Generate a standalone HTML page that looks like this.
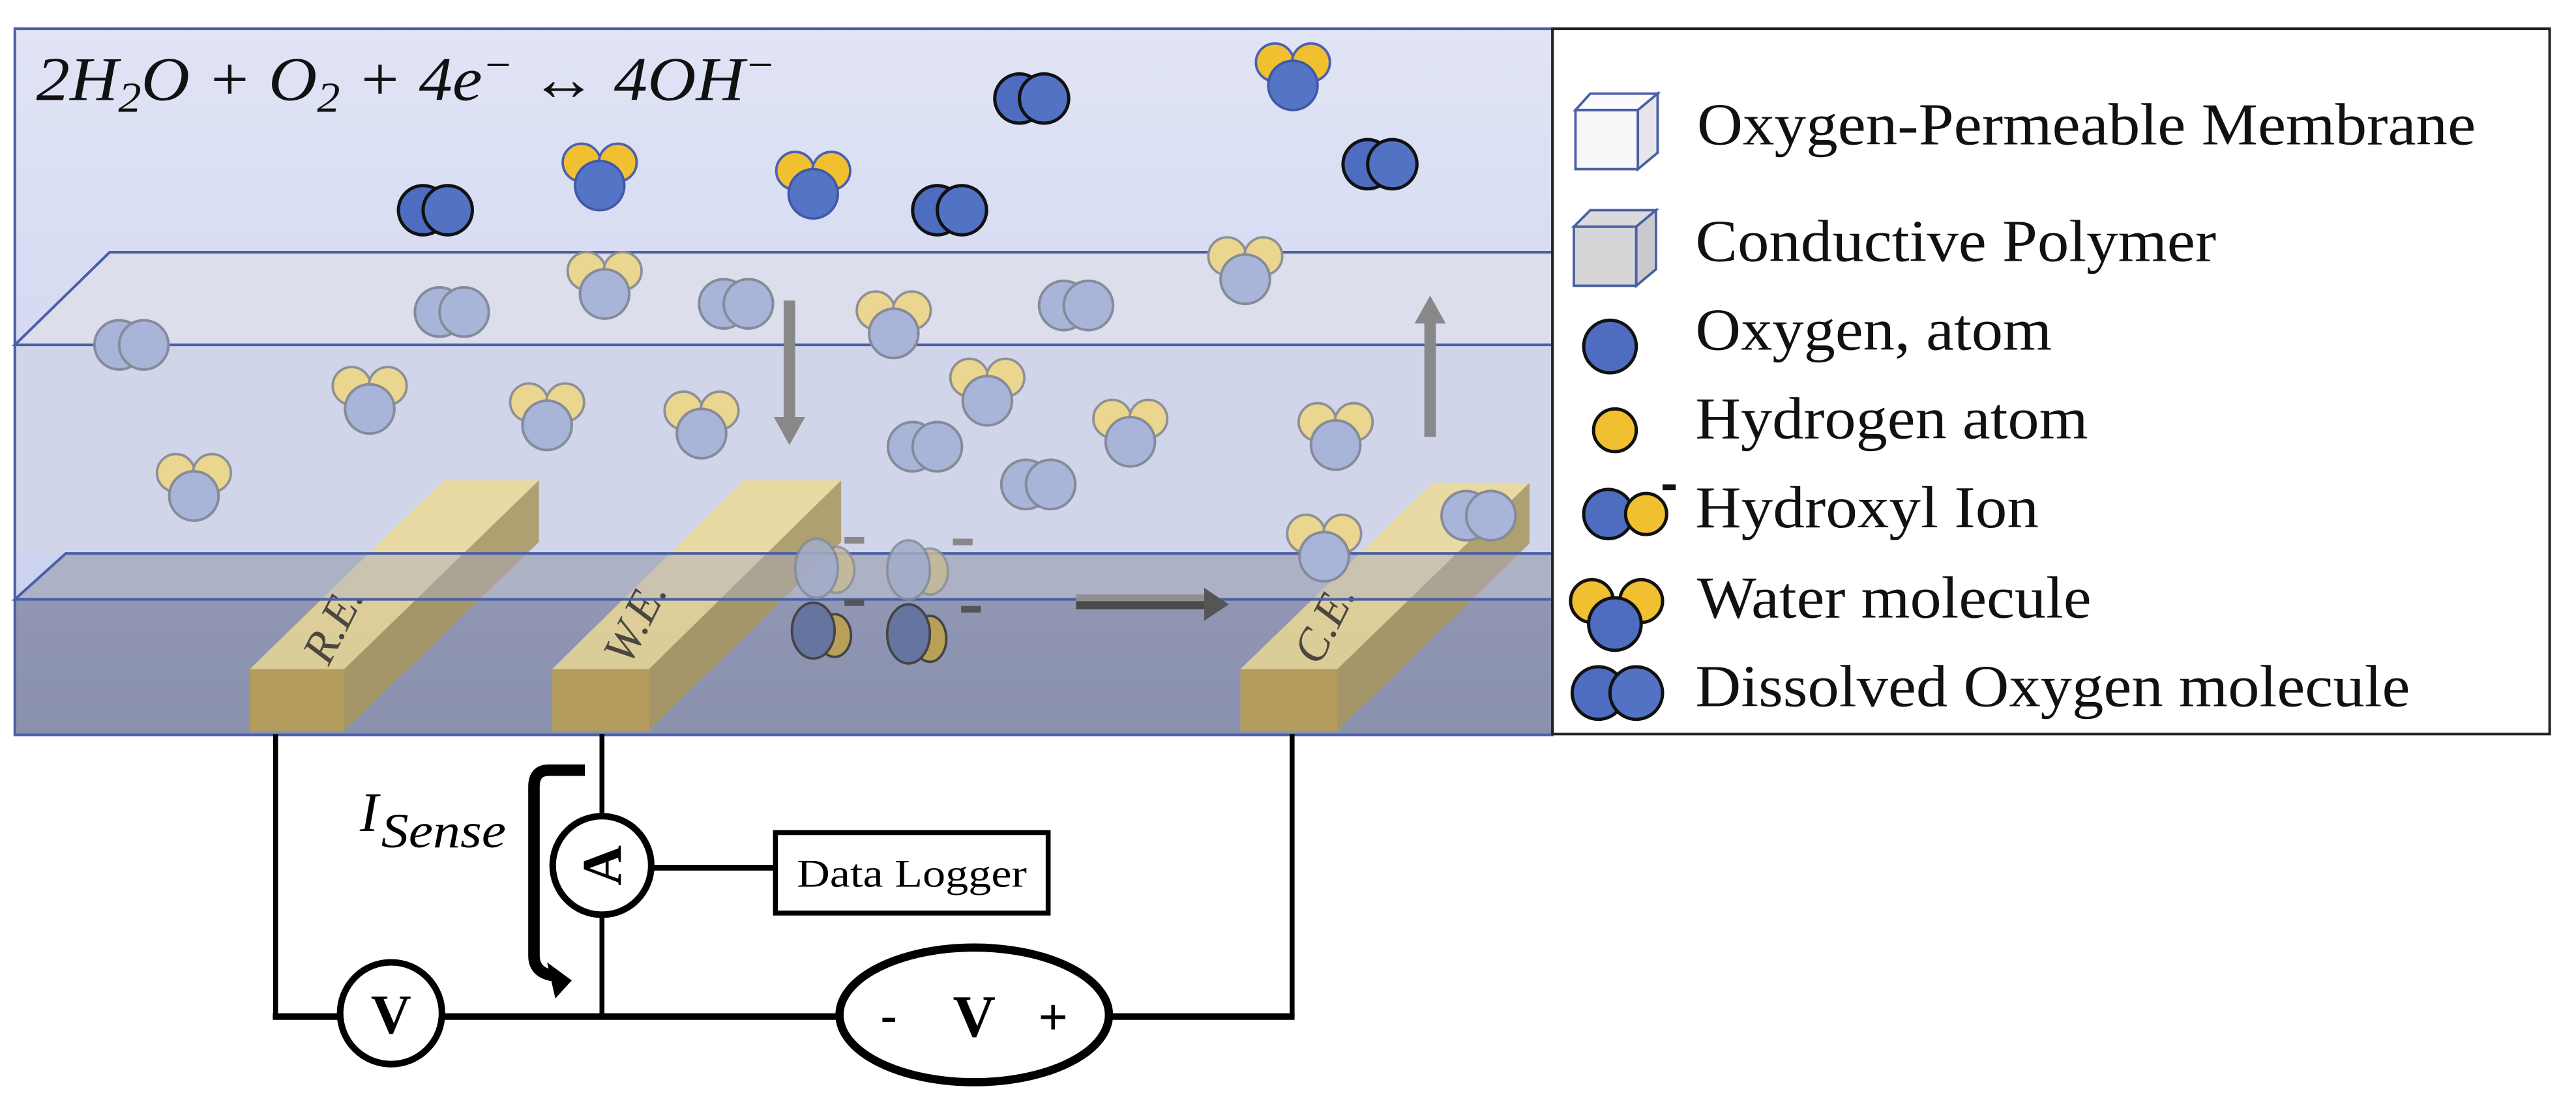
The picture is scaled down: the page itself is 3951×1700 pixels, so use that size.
<!DOCTYPE html>
<html><head><meta charset="utf-8"><style>html,body{margin:0;padding:0;background:#fff}svg{display:block}</style></head>
<body>
<svg width="3951" height="1700" viewBox="0 0 1568 674.7" xmlns="http://www.w3.org/2000/svg">
<defs>
<linearGradient id="top" x1="0" y1="0" x2="0" y2="1"><stop offset="0" stop-color="#e0e4f5"/><stop offset="1" stop-color="#c6cdee"/></linearGradient>
<linearGradient id="bot" x1="0" y1="0" x2="0" y2="1"><stop offset="0" stop-color="#9096b3"/><stop offset="1" stop-color="#8a91ae"/></linearGradient>
<g id="o2s"><circle cx="-7.5" cy="0" r="15" fill="#4e6cc0" stroke="#111" stroke-width="2"/><circle cx="7.5" cy="0" r="15" fill="#5272c4" stroke="#111" stroke-width="2"/></g>
<g id="h2os"><circle cx="-11" cy="-7" r="11.5" fill="#f0c030" stroke="#4a60b0" stroke-width="1.5"/><circle cx="11" cy="-7" r="11.5" fill="#f0c030" stroke="#4a60b0" stroke-width="1.5"/><circle cx="0" cy="7" r="15" fill="#5474c6" stroke="#3f58a8" stroke-width="1.5"/></g>
<g id="o2f"><circle cx="-7.5" cy="0" r="15" fill="#a8b4d8" stroke="#858b99" stroke-width="1.6"/><circle cx="7.5" cy="0" r="15" fill="#a8b4d8" stroke="#858b99" stroke-width="1.6"/></g>
<g id="h2of"><circle cx="-11" cy="-7" r="11.5" fill="#ebd690" stroke="#8f9096" stroke-width="1.5"/><circle cx="11" cy="-7" r="11.5" fill="#ebd690" stroke="#8f9096" stroke-width="1.5"/><circle cx="0" cy="7" r="15" fill="#a8b4d8" stroke="#858b99" stroke-width="1.6"/></g>
</defs>

<rect x="9" y="17.5" width="936" height="430" fill="url(#top)"/>
<polygon points="66.7,153.6 945,153.6 945,210 9,210" fill="#dcdeec"/>
<rect x="9" y="210" width="936" height="127" fill="#d0d5ea"/>
<polygon points="40,337 945,337 945,365 9,365" fill="#adb1c5"/>
<rect x="9" y="365" width="936" height="82" fill="url(#bot)"/>

<g>
<polygon points="152,407.5 209.5,407.5 328,292.5 270,292.5" fill="#efdb92" opacity="0.8"/>
<polygon points="209.5,407.5 209.5,445 328,330 328,292.5" fill="#a8965c" opacity="0.85"/>
<rect x="152" y="407.5" width="57.5" height="37.5" fill="#b39c5c"/>
<polygon points="336,407.5 395,407.5 512,292.5 453,292.5" fill="#efdb92" opacity="0.8"/>
<polygon points="395,407.5 395,445 512,330 512,292.5" fill="#a8965c" opacity="0.85"/>
<rect x="336" y="407.5" width="59" height="37.5" fill="#b39c5c"/>
<polygon points="755,407.5 814,407.5 931,294 872,294" fill="#efdb92" opacity="0.8"/>
<polygon points="814,407.5 814,445 931,331 931,294" fill="#a8965c" opacity="0.85"/>
<rect x="755" y="407.5" width="59" height="37.5" fill="#b39c5c"/>
</g>
<polygon points="40,337 945,337 945,365 9,365" fill="#adb1c5" opacity="0.45"/>
<g font-family="Liberation Serif" font-style="italic" font-size="28" fill="#4a4640">
<text transform="translate(200,406) rotate(-63)">R.E.</text>
<text transform="translate(383,406) rotate(-63)">W.E.</text>
<text transform="translate(803,406) rotate(-63)">C.E.</text>
</g>

<g stroke="#4a5fa5" stroke-width="1.6" fill="none">
<polyline points="945,153.6 66.7,153.6 9,210 945,210"/>
<polyline points="945,337 40,337 9,365 945,365"/>
<rect x="9" y="17.5" width="936" height="430"/>
</g>

<use href="#o2s" x="628" y="60"/>
<use href="#o2s" x="840" y="100"/>
<use href="#o2s" x="265" y="128"/>
<use href="#o2s" x="578" y="128"/>
<use href="#h2os" x="787" y="45"/>
<use href="#h2os" x="365" y="106"/>
<use href="#h2os" x="495" y="111"/>
<g>
<use href="#h2of" x="758" y="163"/>
<use href="#o2f" x="80" y="210"/>
<use href="#o2f" x="275" y="190"/>
<use href="#o2f" x="448" y="185"/>
<use href="#o2f" x="655" y="186"/>
<use href="#o2f" x="563" y="272"/>
<use href="#o2f" x="632" y="295"/>
<use href="#o2f" x="900" y="314"/>
<use href="#h2of" x="368" y="172"/>
<use href="#h2of" x="544" y="196"/>
<use href="#h2of" x="225" y="242"/>
<use href="#h2of" x="333" y="252"/>
<use href="#h2of" x="427" y="257"/>
<use href="#h2of" x="601" y="237"/>
<use href="#h2of" x="688" y="262"/>
<use href="#h2of" x="813" y="264"/>
<use href="#h2of" x="118" y="295"/>
<use href="#h2of" x="806" y="332"/>
</g>
<g opacity="0.85">
<ellipse cx="509" cy="347" rx="11" ry="14" fill="#c6ba95" stroke="#8f9096" stroke-width="1.5"/>
<ellipse cx="497" cy="346" rx="13" ry="18" fill="#a3adc8" stroke="#858b99" stroke-width="1.5"/>
<ellipse cx="566" cy="348" rx="11" ry="14" fill="#c6ba95" stroke="#8f9096" stroke-width="1.5"/>
<ellipse cx="553" cy="347" rx="13" ry="18" fill="#a3adc8" stroke="#858b99" stroke-width="1.5"/>
</g>
<rect x="514" y="327" width="12" height="4" fill="#888"/>
<rect x="580" y="328" width="12" height="4" fill="#888"/>
<ellipse cx="508" cy="387" rx="10" ry="13" fill="#b8a058" stroke="#444" stroke-width="1.5"/>
<ellipse cx="495" cy="384" rx="13" ry="17" fill="#6674a0" stroke="#444" stroke-width="1.5"/>
<ellipse cx="566" cy="389" rx="10" ry="14" fill="#b8a058" stroke="#444" stroke-width="1.5"/>
<ellipse cx="553" cy="386" rx="13" ry="18" fill="#6674a0" stroke="#444" stroke-width="1.5"/>
<rect x="514" y="365" width="12" height="4" fill="#555"/>
<rect x="585" y="369" width="12" height="4" fill="#555"/>

<rect x="477" y="183" width="7" height="72" fill="#888"/>
<polygon points="471,254 490,254 480.5,271" fill="#888"/>
<rect x="867" y="196" width="7" height="70" fill="#888"/>
<polygon points="861,197 880,197 870.5,180" fill="#888"/>
<rect x="655" y="366" width="80" height="5" fill="#4a4a4a"/>
<rect x="655" y="362" width="80" height="4" fill="#909090"/>
<polygon points="733,358 748,368 733,378" fill="#555"/>

<text x="22" y="61" font-family="Liberation Serif" font-style="italic" font-size="38" fill="#111" textLength="450" lengthAdjust="spacingAndGlyphs">2H<tspan dy="7" font-size="26">2</tspan><tspan dy="-7">O + O</tspan><tspan dy="7" font-size="26">2</tspan><tspan dy="-7"> + 4e</tspan><tspan dy="-13" font-size="26">−</tspan><tspan dy="13"> ↔ 4OH</tspan><tspan dy="-13" font-size="26">−</tspan></text>

<rect x="945" y="17.5" width="607" height="429.5" fill="#fff" stroke="#222" stroke-width="1.6"/>
<g stroke="#4a5fa5" stroke-width="1.5">
<rect x="959" y="67" width="38" height="36" fill="#f8f8fa"/>
<polygon points="959,67 968,57 1009,57 997,67" fill="#fafafc"/>
<polygon points="997,67 1009,57 1009,93 997,103" fill="#e6e6ea"/>
<rect x="958" y="138" width="38" height="36" fill="#d6d6d8"/>
<polygon points="958,138 968,128 1008,128 996,138" fill="#dadadc"/>
<polygon points="996,138 1008,128 1008,164 996,174" fill="#cacacc"/>
</g>
<circle cx="980" cy="211" r="16" fill="#4e6cc0" stroke="#111" stroke-width="2"/>
<circle cx="983" cy="262" r="13" fill="#f0c030" stroke="#111" stroke-width="2"/>
<circle cx="979" cy="313" r="15" fill="#4e6cc0" stroke="#111" stroke-width="2"/>
<circle cx="1002" cy="313" r="12.5" fill="#f0c030" stroke="#111" stroke-width="2"/>
<rect x="1012" y="295" width="8" height="3.5" fill="#111"/>
<circle cx="969" cy="366" r="13" fill="#f0c030" stroke="#111" stroke-width="2"/>
<circle cx="999" cy="366" r="13" fill="#f0c030" stroke="#111" stroke-width="2"/>
<circle cx="983" cy="380" r="16" fill="#4e6cc0" stroke="#111" stroke-width="2"/>
<circle cx="973" cy="422" r="16" fill="#4e6cc0" stroke="#111" stroke-width="2"/>
<circle cx="996" cy="422" r="16" fill="#5272c4" stroke="#111" stroke-width="2"/>
<g font-family="Liberation Serif" font-size="36" fill="#111" lengthAdjust="spacingAndGlyphs">
<text x="1033" y="88" textLength="474" lengthAdjust="spacingAndGlyphs">Oxygen-Permeable Membrane</text>
<text x="1032" y="159" textLength="317" lengthAdjust="spacingAndGlyphs">Conductive Polymer</text>
<text x="1032" y="213" textLength="217" lengthAdjust="spacingAndGlyphs">Oxygen, atom</text>
<text x="1032" y="267" textLength="239" lengthAdjust="spacingAndGlyphs">Hydrogen atom</text>
<text x="1032" y="321" textLength="209" lengthAdjust="spacingAndGlyphs">Hydroxyl Ion</text>
<text x="1033" y="376" textLength="240" lengthAdjust="spacingAndGlyphs">Water molecule</text>
<text x="1032" y="430" textLength="435" lengthAdjust="spacingAndGlyphs">Dissolved Oxygen molecule</text>
</g>

<g stroke="#000" fill="none">
<line x1="167.7" y1="447" x2="167.7" y2="619" stroke-width="3"/>
<line x1="366.4" y1="447" x2="366.4" y2="619" stroke-width="3"/>
<line x1="786.5" y1="447" x2="786.5" y2="619" stroke-width="3"/>
<line x1="166" y1="619" x2="788" y2="619" stroke-width="4"/>
<line x1="396" y1="528.4" x2="472" y2="528.4" stroke-width="3.5"/>
<rect x="472" y="507" width="166" height="49" stroke-width="3" fill="#fff"/>
<circle cx="238" cy="617" r="31" stroke-width="4" fill="#fff"/>
<circle cx="366.4" cy="527" r="30" stroke-width="4" fill="#fff"/>
<ellipse cx="593" cy="618" rx="82" ry="41" stroke-width="5" fill="#fff"/>
<path d="M356,469 L334,469 Q325,469 325,479 L325,582 Q325,592 336,594" stroke-width="7"/>
</g>
<polygon points="333,586 348,597 338,608" fill="#000"/>
<text x="555" y="540" font-family="Liberation Serif" font-size="24" fill="#000" text-anchor="middle" textLength="140" lengthAdjust="spacingAndGlyphs">Data Logger</text>
<text x="238" y="629" font-family="Liberation Serif" font-weight="bold" font-size="34" text-anchor="middle">V</text>
<text transform="translate(378,527) rotate(-90)" font-family="Liberation Serif" font-weight="bold" font-size="34" text-anchor="middle">A</text>
<text x="541" y="628" font-family="Liberation Serif" font-weight="bold" font-size="30" text-anchor="middle">-</text>
<text x="593" y="631" font-family="Liberation Serif" font-weight="bold" font-size="36" text-anchor="middle">V</text>
<text x="641" y="630" font-family="Liberation Serif" font-weight="bold" font-size="32" text-anchor="middle">+</text>
<text x="219" y="506" font-family="Liberation Serif" font-style="italic" font-size="34">I</text>
<text x="232" y="516" font-family="Liberation Serif" font-style="italic" font-size="30" textLength="76" lengthAdjust="spacingAndGlyphs">Sense</text>
</svg>
</body></html>
